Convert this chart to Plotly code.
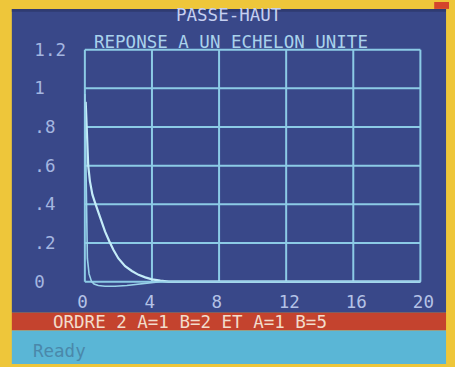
import plotly.graph_objects as go

# Step response of the high-pass filter, two parameter sets
t_b2 = [0.05, 0.1, 0.15, 0.2, 0.3, 0.45, 0.6, 0.8, 1.0, 1.2, 1.45, 1.7, 2.0, 2.4, 2.8, 3.2, 3.6, 4.0, 4.5, 5.0, 20.0]
v_b2 = [0.93, 0.8, 0.68, 0.6, 0.52, 0.45, 0.41, 0.36, 0.31, 0.26, 0.21, 0.165, 0.12, 0.08, 0.055, 0.035, 0.022, 0.012, 0.005, 0.0, 0.0]

t_b5 = [0.0, 0.03, 0.06, 0.1, 0.15, 0.25, 0.4, 0.55, 0.8, 1.2, 1.8, 2.5, 3.2, 3.8, 4.5, 20.0]
v_b5 = [0.97, 0.75, 0.5, 0.28, 0.12, 0.04, 0.0, -0.012, -0.02, -0.024, -0.024, -0.02, -0.012, -0.005, 0.0, 0.0]

x_ticks = [0, 4, 8, 12, 16, 20]
x_labels = ["0\u00a0", "4\u00a0", "8\u00a0", "12", "16", "20"]
y_ticks = [0, 0.2, 0.4, 0.6, 0.8, 1.0, 1.2]
y_labels = ["0\u00a0\u00a0", ".2\u00a0", ".4\u00a0", ".6\u00a0", ".8\u00a0", "1\u00a0\u00a0", "1.2"]

W, H = 455, 367

# screen geometry (pixels)
X0_PX, X_PER_UNIT = 86.0, 17.0
Y0_PX, Y_PER_UNIT = 283.5, 196.0
PLOT_L, PLOT_R, PLOT_T, PLOT_B = 78, 434, 40, 291

x_range = [(PLOT_L - X0_PX) / X_PER_UNIT, (PLOT_R - X0_PX) / X_PER_UNIT]
y_range = [(Y0_PX - PLOT_B) / Y_PER_UNIT, (Y0_PX - PLOT_T) / Y_PER_UNIT]

BLUE = "#394889"
RED = "#c4432e"
CYAN = "#5ab6d6"
YELLOW = "#eec63a"
GRID = "#8ccbe6"
FONT = "DejaVu Sans Mono"
FS = 17.5


def px_x(p):
    return p / W


def px_y(p):
    return 1 - p / H


fig = go.Figure()

fig.add_trace(go.Scatter(x=t_b2, y=v_b2, mode="lines",
                         line=dict(color="#c4ecf8", width=2.2), hoverinfo="skip"))
fig.add_trace(go.Scatter(x=t_b5, y=v_b5, mode="lines",
                         line=dict(color="#9ad2ea", width=1.6), hoverinfo="skip"))

shapes = [
    # screen, status bar, prompt line
    dict(type="rect", xref="paper", yref="paper", x0=px_x(12), x1=px_x(452),
         y0=px_y(315), y1=px_y(7), fillcolor=BLUE, line_width=0, layer="below"),
    dict(type="rect", xref="paper", yref="paper", x0=px_x(12), x1=px_x(452),
         y0=px_y(333), y1=px_y(315), fillcolor=RED, line_width=0, layer="below"),
    dict(type="rect", xref="paper", yref="paper", x0=px_x(12), x1=px_x(452),
         y0=px_y(367), y1=px_y(333), fillcolor=CYAN, line_width=0, layer="below"),
    dict(type="rect", xref="paper", yref="paper", x0=px_x(440), x1=px_x(455),
         y0=px_y(7), y1=px_y(0), fillcolor="#d4452c", line_width=0, layer="below"),
    dict(type="rect", xref="paper", yref="paper", x0=px_x(12), x1=px_x(452),
         y0=px_y(10), y1=px_y(7), fillcolor="#2f3b72", line_width=0, layer="below"),
]

# grid and frame
for xv in x_ticks:
    shapes.append(dict(type="line", xref="x", yref="y", x0=xv, x1=xv,
                       y0=y_ticks[0], y1=y_ticks[-1],
                       line=dict(color=GRID, width=2), layer="below"))
for yv in y_ticks:
    shapes.append(dict(type="line", xref="x", yref="y", x0=x_ticks[0], x1=x_ticks[-1],
                       y0=yv, y1=yv,
                       line=dict(color=GRID, width=2), layer="below"))

annotations = [
    dict(text="PASSE-HAUT", x=px_x(232), y=px_y(13), xref="paper", yref="paper",
         showarrow=False, xanchor="center", yanchor="middle",
         font=dict(family=FONT, size=FS, color="#c6d0f0")),
    dict(text="REPONSE A UN ECHELON UNITE", x=px_x(234), y=px_y(41),
         xref="paper", yref="paper", showarrow=False, xanchor="center", yanchor="middle",
         font=dict(family=FONT, size=FS, color="#a9d2ec")),
    dict(text="ORDRE 2 A=1 B=2 ET A=1 B=5", x=px_x(193), y=px_y(324),
         xref="paper", yref="paper", showarrow=False, xanchor="center", yanchor="middle",
         font=dict(family=FONT, size=FS, color="#f2dccb")),
    dict(text="Ready", x=px_x(31), y=px_y(354), xref="paper", yref="paper",
         showarrow=False, xanchor="left", yanchor="middle",
         font=dict(family=FONT, size=FS, color="#4a88aa")),
]

fig.update_layout(
    width=W, height=H,
    margin=dict(l=0, r=0, t=0, b=0),
    paper_bgcolor=YELLOW,
    plot_bgcolor="rgba(0,0,0,0)",
    showlegend=False,
    shapes=shapes,
    annotations=annotations,
    xaxis=dict(domain=[PLOT_L / W, PLOT_R / W], range=x_range,
               tickvals=x_ticks, ticktext=x_labels, ticks="",
               showgrid=False, zeroline=False, showline=False,
               ticklabelshift=3, ticklabelstandoff=0,
               tickfont=dict(family=FONT, size=FS, color="#b4c2e6")),
    yaxis=dict(domain=[1 - PLOT_B / H, 1 - PLOT_T / H], range=y_range,
               tickvals=y_ticks, ticktext=y_labels, ticks="",
               showgrid=False, zeroline=False, showline=False,
               ticklabelstandoff=10,
               tickfont=dict(family=FONT, size=FS, color="#a4b6e0")),
)

fig.write_html("out.html")
